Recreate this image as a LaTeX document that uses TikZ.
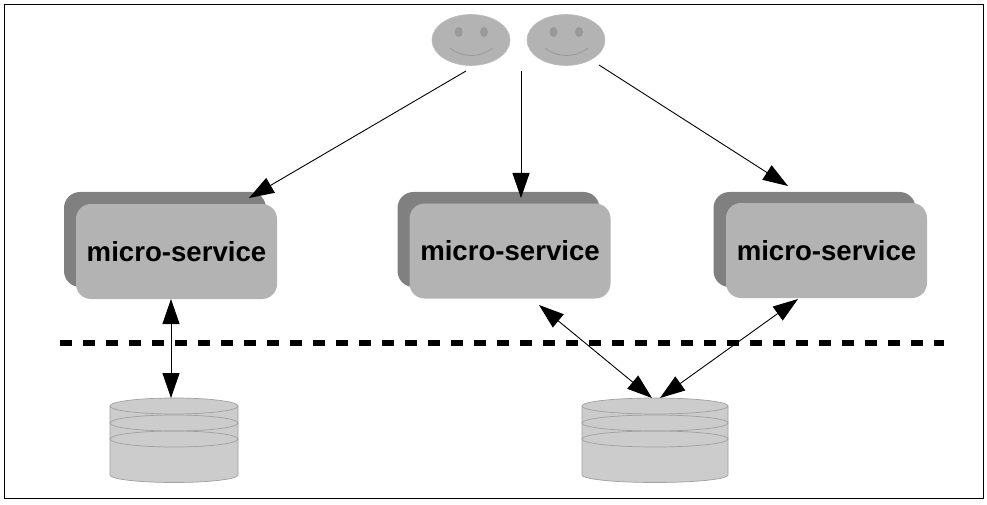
\documentclass[tikz,border=0pt]{standalone}
\usepackage{fontspec}
\setmainfont{Liberation Sans}
\usetikzlibrary{arrows.meta,shapes.geometric}
\definecolor{svcfront}{HTML}{B3B3B3}
\definecolor{svcback}{HTML}{808080}
\definecolor{dbfill}{HTML}{CCCCCC}
\definecolor{dbline}{HTML}{A0A0A0}
\definecolor{eyecol}{HTML}{999999}
\definecolor{faceline}{HTML}{BBBBBB}
\tikzset{
  svcfrontbox/.style={rectangle,rounded corners=15pt,fill=svcfront,draw=none,minimum width=201pt,minimum height=95pt,inner sep=0pt,font=\fontsize{27.6pt}{30pt}\selectfont\bfseries,text=black},
  svcbackbox/.style={rectangle,rounded corners=16pt,fill=svcback,draw=none,minimum width=202pt,minimum height=95pt,inner sep=0pt},
  facehead/.style={ellipse,fill=svcfront,draw=faceline,line width=0.6pt,minimum width=78pt,minimum height=51pt,inner sep=0pt},
  faceeye/.style={ellipse,fill=eyecol,draw=none,minimum width=8pt,minimum height=10pt,inner sep=0pt},
  smileline/.style={draw=eyecol,line width=0.8pt},
  dbshape/.style={fill=dbfill,draw=dbline,line width=0.7pt},
  conn/.style={draw=black,line width=0.9pt,-{Triangle[length=25pt,width=17pt]}},
  bothconn/.style={draw=black,line width=0.9pt,{Triangle[length=25pt,width=17pt]}-{Triangle[length=25pt,width=17pt]}},
  boundary/.style={draw=black,line width=5.5pt,dash pattern=on 12pt off 11pt},
  framebox/.style={draw=black,line width=0.9pt,fill=white}
}
\newcommand{\dbdraw}[4]{% xleft, xright, xcentre, rx
  \path[dbshape] (#1,406) -- (#1,475) arc[start angle=180,end angle=0,x radius=#4,y radius=7.5] -- (#2,406);
  \path[dbshape] (#3,406) ellipse[x radius=#4,y radius=8];
  \path[dbshape,fill=none] (#3,423) ellipse[x radius=#4,y radius=8];
  \path[dbshape,fill=none] (#3,439) ellipse[x radius=#4,y radius=8];
}
\begin{document}
\begin{tikzpicture}[x=1pt,y=-1pt]
\useasboundingbox (0,0) rectangle (987,505);
\path[framebox] (4.5,4.5) rectangle (983,498);

% faces
\node[facehead] (faceL) at (471,40) {};
\node[faceeye] (eyeLa) at (458.7,32) {};
\node[faceeye] (eyeLb) at (484,32) {};
\draw[smileline] (450,48) .. controls (462,58) and (481,58) .. (493,48);
\node[facehead] (faceR) at (566,40) {};
\node[faceeye] (eyeRa) at (553.5,32) {};
\node[faceeye] (eyeRb) at (579,32) {};
\draw[smileline] (545,48) .. controls (557,58) and (576,58) .. (588,48);

% services
\node[svcbackbox] (backA) at (165,239.5) {};
\node[svcfrontbox] (svcA) at (176.5,251.5) {micro-service};
\node[svcbackbox] (backB) at (498.5,239.5) {};
\node[svcfrontbox] (svcB) at (510,251) {micro-service};
\node[svcbackbox] (backC) at (814.5,239.5) {};
\node[svcfrontbox] (svcC) at (826.5,250.5) {micro-service};

% databases
\dbdraw{110}{238}{174}{64}
\dbdraw{582}{728}{655}{73}

% boundary
\coordinate (boundL) at (60,342.8);
\coordinate (boundR) at (944,342.8);
\draw[boundary] (boundL) -- (boundR);

% connector ends
\coordinate (fromA) at (466,71);
\coordinate (toA) at (249,198);
\coordinate (fromB) at (521,71);
\coordinate (toB) at (521,198);
\coordinate (fromC) at (599,65);
\coordinate (toC) at (788,186);
\coordinate (svcAdb) at (171,299);
\coordinate (dbAtop) at (171,398);
\coordinate (svcBdb) at (539,305);
\coordinate (dbBtopL) at (652,398);
\coordinate (svcCdb) at (798,299);
\coordinate (dbBtopR) at (660,398);

\draw[conn] (fromA) -- (toA);
\draw[conn] (fromB) -- (toB);
\draw[conn] (fromC) -- (toC);
\draw[bothconn] (svcAdb) -- (dbAtop);
\draw[bothconn] (svcBdb) -- (dbBtopL);
\draw[bothconn] (svcCdb) -- (dbBtopR);
\end{tikzpicture}
\end{document}
